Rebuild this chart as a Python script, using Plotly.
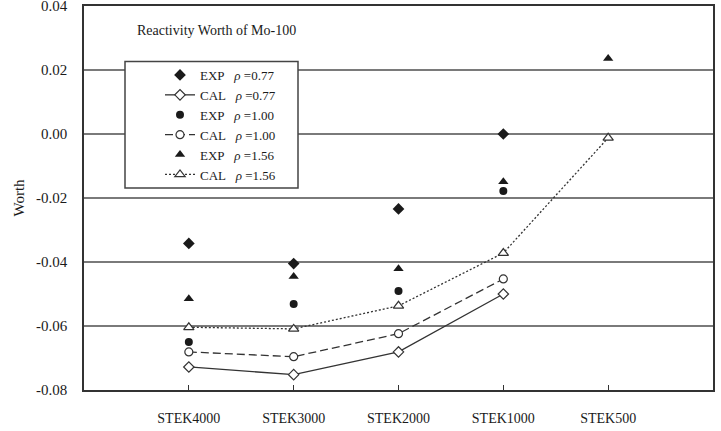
import plotly.graph_objects as go

categories = ["STEK4000", "STEK3000", "STEK2000", "STEK1000", "STEK500"]
exp_077 = [-0.0342, -0.0405, -0.0234, 0.0000, None]
cal_077 = [-0.0728, -0.0752, -0.0681, -0.0500, None]
exp_100 = [-0.0650, -0.0531, -0.0491, -0.0178, None]
cal_100 = [-0.0681, -0.0696, -0.0624, -0.0453, None]
exp_156 = [-0.0515, -0.0445, -0.0421, -0.0149, 0.0236]
cal_156 = [-0.0604, -0.0609, -0.0537, -0.0372, -0.0012]

y_ticks = [0.04, 0.02, 0.00, -0.02, -0.04, -0.06, -0.08]
y_tick_text = ["0.04", "0.02", "0.00", "-0.02", "-0.04", "-0.06", "-0.08"]

FONT = "Liberation Serif, Times New Roman, serif"
INK = "#1a1a1a"
NB = "\u00a0"

fig = go.Figure()

def add(name, ys, symbol, filled, dash=None, size=8):
    mode = "markers" if dash is None else "lines+markers"
    marker = dict(symbol=symbol, size=size,
                  color=INK if filled else "white",
                  line=dict(color=INK if filled else "#333", width=0 if filled else 1.2))
    kw = dict(x=categories, y=ys, name=name, mode=mode, marker=marker, connectgaps=False)
    if dash is not None:
        kw["line"] = dict(color="#333", width=1.3, dash=dash)
    fig.add_trace(go.Scatter(**kw))

add("EXP" + NB * 3 + "<i>ρ</i> =0.77", exp_077, "diamond", True, size=9)
add("CAL" + NB * 3 + "<i>ρ</i> =0.77", cal_077, "diamond", False, dash="solid", size=8)
add("EXP" + NB * 3 + "<i>ρ</i> =1.00", exp_100, "circle", True, size=8)
add("CAL" + NB * 3 + "<i>ρ</i> =1.00", cal_100, "circle", False, dash="8px,4px", size=8)
add("EXP" + NB * 3 + "<i>ρ</i> =1.56", exp_156, "triangle-up", True, size=9)
add("CAL" + NB * 3 + "<i>ρ</i> =1.56", cal_156, "triangle-up", False, dash="2px,2px", size=9)

L, R, T, B = 84, 8, 6, 41
W, H = 721, 431
pw, ph = W - L - R, H - T - B

def px_x(x):
    return (x - L) / pw

def px_y(y):
    return (H - B - y) / ph

fig.add_shape(type="rect", xref="paper", yref="paper",
              x0=px_x(125), x1=px_x(298), y0=px_y(188), y1=px_y(61.5),
              line=dict(color="#444", width=1.5), fillcolor="white", layer="above")

fig.add_annotation(text="Reactivity Worth of Mo-100", xref="paper", yref="paper",
                   x=px_x(135), y=px_y(31), xanchor="left", yanchor="middle",
                   showarrow=False, font=dict(family=FONT, size=14, color=INK))

fig.update_layout(
    width=W, height=H,
    margin=dict(l=L, r=R, t=T, b=B),
    paper_bgcolor="white", plot_bgcolor="white",
    font=dict(family=FONT, size=14, color=INK),
    showlegend=True,
    legend=dict(x=px_x(160), y=px_y(60), xanchor="left", yanchor="top",
                bgcolor="rgba(0,0,0,0)", borderwidth=0,
                font=dict(family=FONT, size=13, color=INK),
                tracegroupgap=0),
)

fig.update_xaxes(type="category", categoryorder="array", categoryarray=categories,
                 range=[-1, 5], showgrid=False, zeroline=False, automargin=False,
                 showline=True, linecolor="#333", linewidth=1.5, mirror=True,
                 ticks="inside", ticklen=5, tickcolor="#333", tickwidth=1.2,
                 ticklabelstandoff=14, ticklabeloverflow="allow",
                 tickfont=dict(family=FONT, size=14, color=INK))

fig.update_yaxes(range=[-0.08, 0.04], tickvals=y_ticks, ticktext=y_tick_text,
                 showgrid=True, gridcolor="#7a7a7a", gridwidth=1.5, zeroline=False,
                 automargin=False, ticklabeloverflow="allow",
                 showline=True, linecolor="#333", linewidth=1.5, mirror=True,
                 ticks="", ticklabelstandoff=12,
                 tickfont=dict(family=FONT, size=15, color=INK),
                 title=dict(text="Worth", font=dict(family=FONT, size=15, color=INK), standoff=8))

fig.write_html("out.html")
